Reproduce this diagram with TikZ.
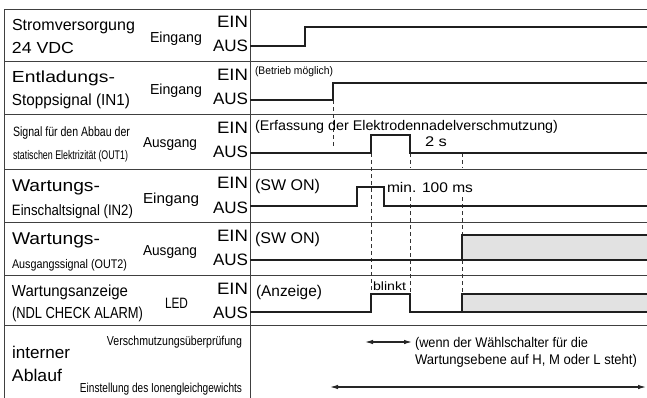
\documentclass[tikz,border=0pt]{standalone}
\usepackage{graphicx}
\usepackage{fontspec}
\setmainfont{Liberation Sans}
\usetikzlibrary{arrows.meta}
\newcommand\txt[3]{{\fontsize{#1}{#1}\selectfont\resizebox{#2pt}{\height}{#3}}}
\definecolor{grayfill}{HTML}{E2E2E2}
\tikzset{
  frame/.style={line width=1pt, draw=black!75},
  sig/.style={line width=2pt, draw=black!88, line join=miter},
  dline/.style={line width=0.9pt, dash pattern=on 4pt off 3pt, draw=black!80},
  lbl/.style={inner sep=0pt, outer sep=0pt},
  lw/.style={lbl, anchor=base west},
  le/.style={lbl, anchor=base east},
  dbl/.style={line width=1.1pt, draw=black!85, {Latex[length=8pt,width=4.5pt]}-{Latex[length=8pt,width=4.5pt]}},
}
\begin{document}
\begin{tikzpicture}[x=1pt,y=-1pt]
\useasboundingbox (0,0) rectangle (647,398);
% frame
\draw[frame] (4,398) -- (4,10) -- (647,10);
\draw[frame] (250,10) -- (250,398);
\foreach \yy in {62,115,170,222,275,325} \draw[frame] (4,\yy) -- (647,\yy);

% gray areas
\fill[grayfill] (462,235) rectangle (647,260);
\fill[grayfill] (462,294) rectangle (647,312);

% dashed guides
\draw[dline] (333,100) -- (333,146);
\draw[dline] (371,153) -- (371,294);
\draw[dline] (410,153) -- (410,168);
\draw[dline] (410,197) -- (410,294);
\draw[dline] (462,153) -- (462,168);
\draw[dline] (462,197) -- (462,294);

% signals
\draw[sig] (250,46) -- (305,46) -- (305,27) -- (647,27);
\draw[sig] (250,100) -- (333,100) -- (333,83) -- (647,83);
\draw[sig] (250,153) -- (371,153) -- (371,135) -- (410,135) -- (410,153) -- (647,153);
\draw[sig] (250,206) -- (357,206) -- (357,187) -- (384,187) -- (384,206) -- (647,206);
\draw[sig] (250,260) -- (462,260) -- (462,235) -- (647,235);
\draw[sig] (462,260) -- (647,260);
\draw[sig] (250,312) -- (371,312) -- (371,294) -- (410,294) -- (410,312) -- (462,312) -- (462,294) -- (647,294);
\draw[sig] (462,312) -- (647,312);

% arrows in internal process row
\coordinate (a1) at (365,342);
\coordinate (a2) at (412,342);
\coordinate (b1) at (330,387);
\coordinate (b2) at (646,387);
\draw[dbl] (a1) -- (a2);
\draw[dbl] (b1) -- (b2);

% row 1
\node[lw] (r1a) at (12,31) {\txt{16}{123}{Stromversorgung}};
\node[lw] (r1b) at (12,54) {\txt{16}{62}{24 VDC}};
\node[lw] (r1c) at (150,43) {\txt{14.5}{52}{Eingang}};
\node[le] (r1e) at (248,28) {\txt{16.5}{31}{EIN}};
\node[le] (r1f) at (248,52) {\txt{16.5}{35}{AUS}};
% row 2
\node[lw] (r2a) at (12,83) {\txt{16}{103}{Entladungs-}};
\node[lw] (r2b) at (12,106) {\txt{16}{118}{Stoppsignal (IN1)}};
\node[lw] (r2c) at (150,95) {\txt{14.5}{52}{Eingang}};
\node[le] (r2e) at (248,81) {\txt{16.5}{31}{EIN}};
\node[le] (r2f) at (248,105) {\txt{16.5}{35}{AUS}};
\node[lw] (r2n) at (255,75) {\txt{11}{78}{(Betrieb möglich)}};
% row 3
\node[lw] (r3a) at (13,137) {\txt{13.5}{117}{Signal für den Abbau der}};
\node[lw] (r3b) at (13,160) {\txt{12.5}{115}{statischen Elektrizität (OUT1)}};
\node[lw] (r3c) at (143,148) {\txt{14.5}{54}{Ausgang}};
\node[le] (r3e) at (248,134) {\txt{16.5}{31}{EIN}};
\node[le] (r3f) at (248,158) {\txt{16.5}{35}{AUS}};
\node[lw] (r3n) at (255,131) {\txt{14}{303}{(Erfassung der Elektrodennadelverschmutzung)}};
\node[lw] (r3t) at (425,147) {\txt{14}{22}{2 s}};
% row 4
\node[lw] (r4a) at (12,192) {\txt{17}{88}{Wartungs-}};
\node[lw] (r4b) at (12,215) {\txt{15}{121}{Einschaltsignal (IN2)}};
\node[lw] (r4c) at (143,203) {\txt{14.5}{56}{Eingang}};
\node[le] (r4e) at (248,189) {\txt{16.5}{31}{EIN}};
\node[le] (r4f) at (248,213) {\txt{16.5}{35}{AUS}};
\node[lw] (r4n) at (255,190) {\txt{15.5}{65}{(SW ON)}};
\node[lw] (r4t) at (387,192) {\txt{14}{86}{min. 100 ms}};
% row 5
\node[lw] (r5a) at (12,244) {\txt{17}{88}{Wartungs-}};
\node[lw] (r5b) at (12,268) {\txt{12.5}{115}{Ausgangssignal (OUT2)}};
\node[lw] (r5c) at (143,255) {\txt{14.5}{54}{Ausgang}};
\node[le] (r5e) at (248,241) {\txt{16.5}{31}{EIN}};
\node[le] (r5f) at (248,265) {\txt{16.5}{35}{AUS}};
\node[lw] (r5n) at (255,243) {\txt{15.5}{65}{(SW ON)}};
% row 6
\node[lw] (r6a) at (12,296) {\txt{16}{116}{Wartungsanzeige}};
\node[lw] (r6b) at (12,318) {\txt{16}{131}{(NDL CHECK ALARM)}};
\node[lw] (r6c) at (165,308) {\txt{15}{23}{LED}};
\node[le] (r6e) at (248,294) {\txt{16.5}{31}{EIN}};
\node[le] (r6f) at (248,318) {\txt{16.5}{35}{AUS}};
\node[lw] (r6n) at (256,296) {\txt{15.5}{66}{(Anzeige)}};
\node[lw] (r6t) at (373,290) {\txt{12}{33}{blinkt}};
% row 7
\node[lw] (r7a) at (12,358) {\txt{17}{58}{interner}};
\node[lw] (r7b) at (12,381) {\txt{17}{50}{Ablauf}};
\node[le] (r7c) at (242,345) {\txt{13}{135}{Verschmutzungsüberprüfung}};
\node[le] (r7d) at (242,392) {\txt{13}{162}{Einstellung des Ionengleichgewichts}};
\node[lw] (r7n) at (415,347) {\txt{14}{173}{(wenn der Wählschalter für die}};
\node[lw] (r7m) at (415,364) {\txt{14}{222}{Wartungsebene auf H, M oder L steht)}};
\end{tikzpicture}
\end{document}
